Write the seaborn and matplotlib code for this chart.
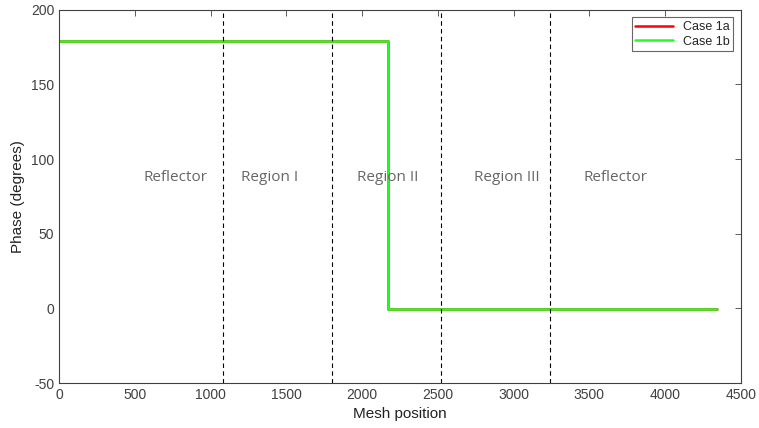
import pandas as pd
import seaborn as sns
import matplotlib.pyplot as plt

# phase profile along the mesh (step change at the centre)
mesh_pos = [0, 2170, 2170, 4340]
phase_1a = [179, 179, -0.5, -0.5]
phase_1b = [179, 179, -0.5, -0.5]

boundaries = [1080, 1800, 2520, 3240]
region_names = ["Reflector", "Region I", "Region II", "Region III", "Reflector"]
region_x = [765, 1390, 2170, 2955, 3670]
region_y = 88

sns.set_style("white")
plt.rcParams["font.family"] = ["Liberation Sans", "DejaVu Sans"]
plt.rcParams["axes.unicode_minus"] = False

df = pd.concat([
    pd.DataFrame({"Mesh position": mesh_pos, "Phase": phase_1a, "case": "Case 1a"}),
    pd.DataFrame({"Mesh position": mesh_pos, "Phase": phase_1b, "case": "Case 1b"}),
])

fig, ax = plt.subplots(figsize=(7.59, 4.28), dpi=100)
sns.lineplot(data=df, x="Mesh position", y="Phase", hue="case", sort=False,
             palette={"Case 1a": "#ff0000", "Case 1b": "#22ff22"},
             linewidth=1.8, ax=ax, estimator=None)

for b in boundaries:
    ax.axvline(b, color="black", linestyle=(0, (4, 3)), linewidth=0.8)

for name, x in zip(region_names, region_x):
    ax.text(x, region_y, name, ha="center", va="center", fontsize=11,
            color="#666666", family=["Open Sans", "DejaVu Sans"])

ax.set_xlim(0, 4500)
ax.set_ylim(-50, 200)
ax.set_xticks(range(0, 4501, 500))
ax.set_yticks(range(-50, 201, 50))
ax.set_xlabel("Mesh position", fontsize=11, color="#222222")
ax.set_ylabel("Phase (degrees)", fontsize=11, color="#222222")
ax.tick_params(direction="in", top=True, right=True, length=4, labelsize=10,
               colors="#404040", width=0.6)
for s in ax.spines.values():
    s.set_color("#404040")
    s.set_linewidth(0.8)

leg = ax.legend(loc="upper right", fontsize=9, frameon=True, fancybox=False,
                edgecolor="#404040", handlelength=3, borderpad=0.3,
                labelspacing=0.2, borderaxespad=0.6)
leg.get_frame().set_linewidth(0.8)

plt.subplots_adjust(left=0.078, right=0.976, top=0.977, bottom=0.105)
plt.savefig("out.png")
plt.close()
